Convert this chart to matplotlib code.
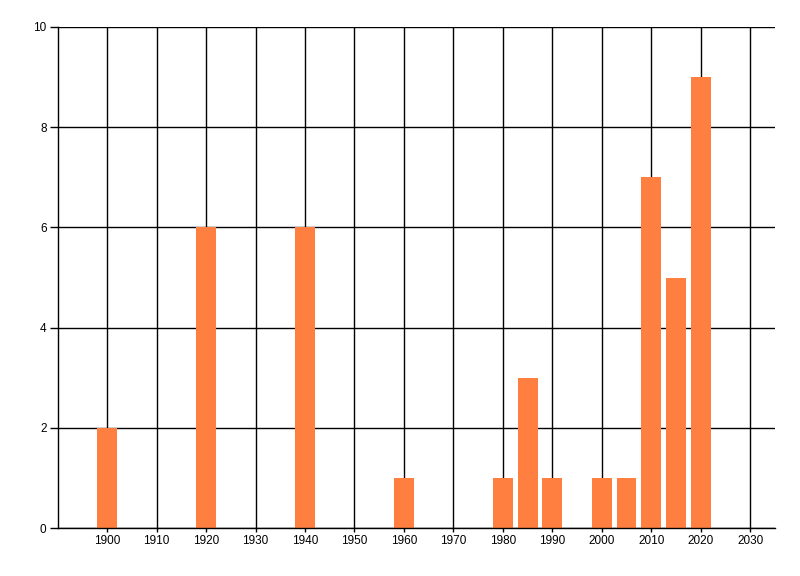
import matplotlib
matplotlib.use('Agg')
from matplotlib import pyplot as plt

# Data
years = [1900, 1920, 1940, 1960, 1980, 1985, 1990, 2000, 2005, 2010, 2015, 2020]
counts = [2, 6, 6, 1, 1, 3, 1, 1, 1, 7, 5, 9]
x_ticks = list(range(1900, 2031, 10))
y_ticks = [0, 2, 4, 6, 8, 10]

plt.rcParams['font.family'] = ['Liberation Sans', 'DejaVu Sans']

fig = plt.figure(figsize=(8, 5.76), dpi=100)
ax = fig.add_axes([0.0721, 0.0828, 0.8966, 0.8708])

ax.bar(years, counts, width=4, color='#FF7F40', zorder=3)

ax.set_xlim(1890, 2035)
ax.set_ylim(0, 10)
ax.set_xticks(x_ticks)
ax.set_yticks(y_ticks)
ax.grid(True, color='black', linewidth=1, zorder=1)
ax.set_axisbelow(True)

for side in ['top', 'right']:
    ax.spines[side].set_visible(False)
for side in ['left', 'bottom']:
    ax.spines[side].set_linewidth(1)
    ax.spines[side].set_zorder(4)

ax.tick_params(axis='y', length=6, width=1, labelsize=8.5, pad=2)
ax.tick_params(axis='x', length=3, width=1, labelsize=8.5, pad=2)

fig.savefig('out.png', dpi=100)
